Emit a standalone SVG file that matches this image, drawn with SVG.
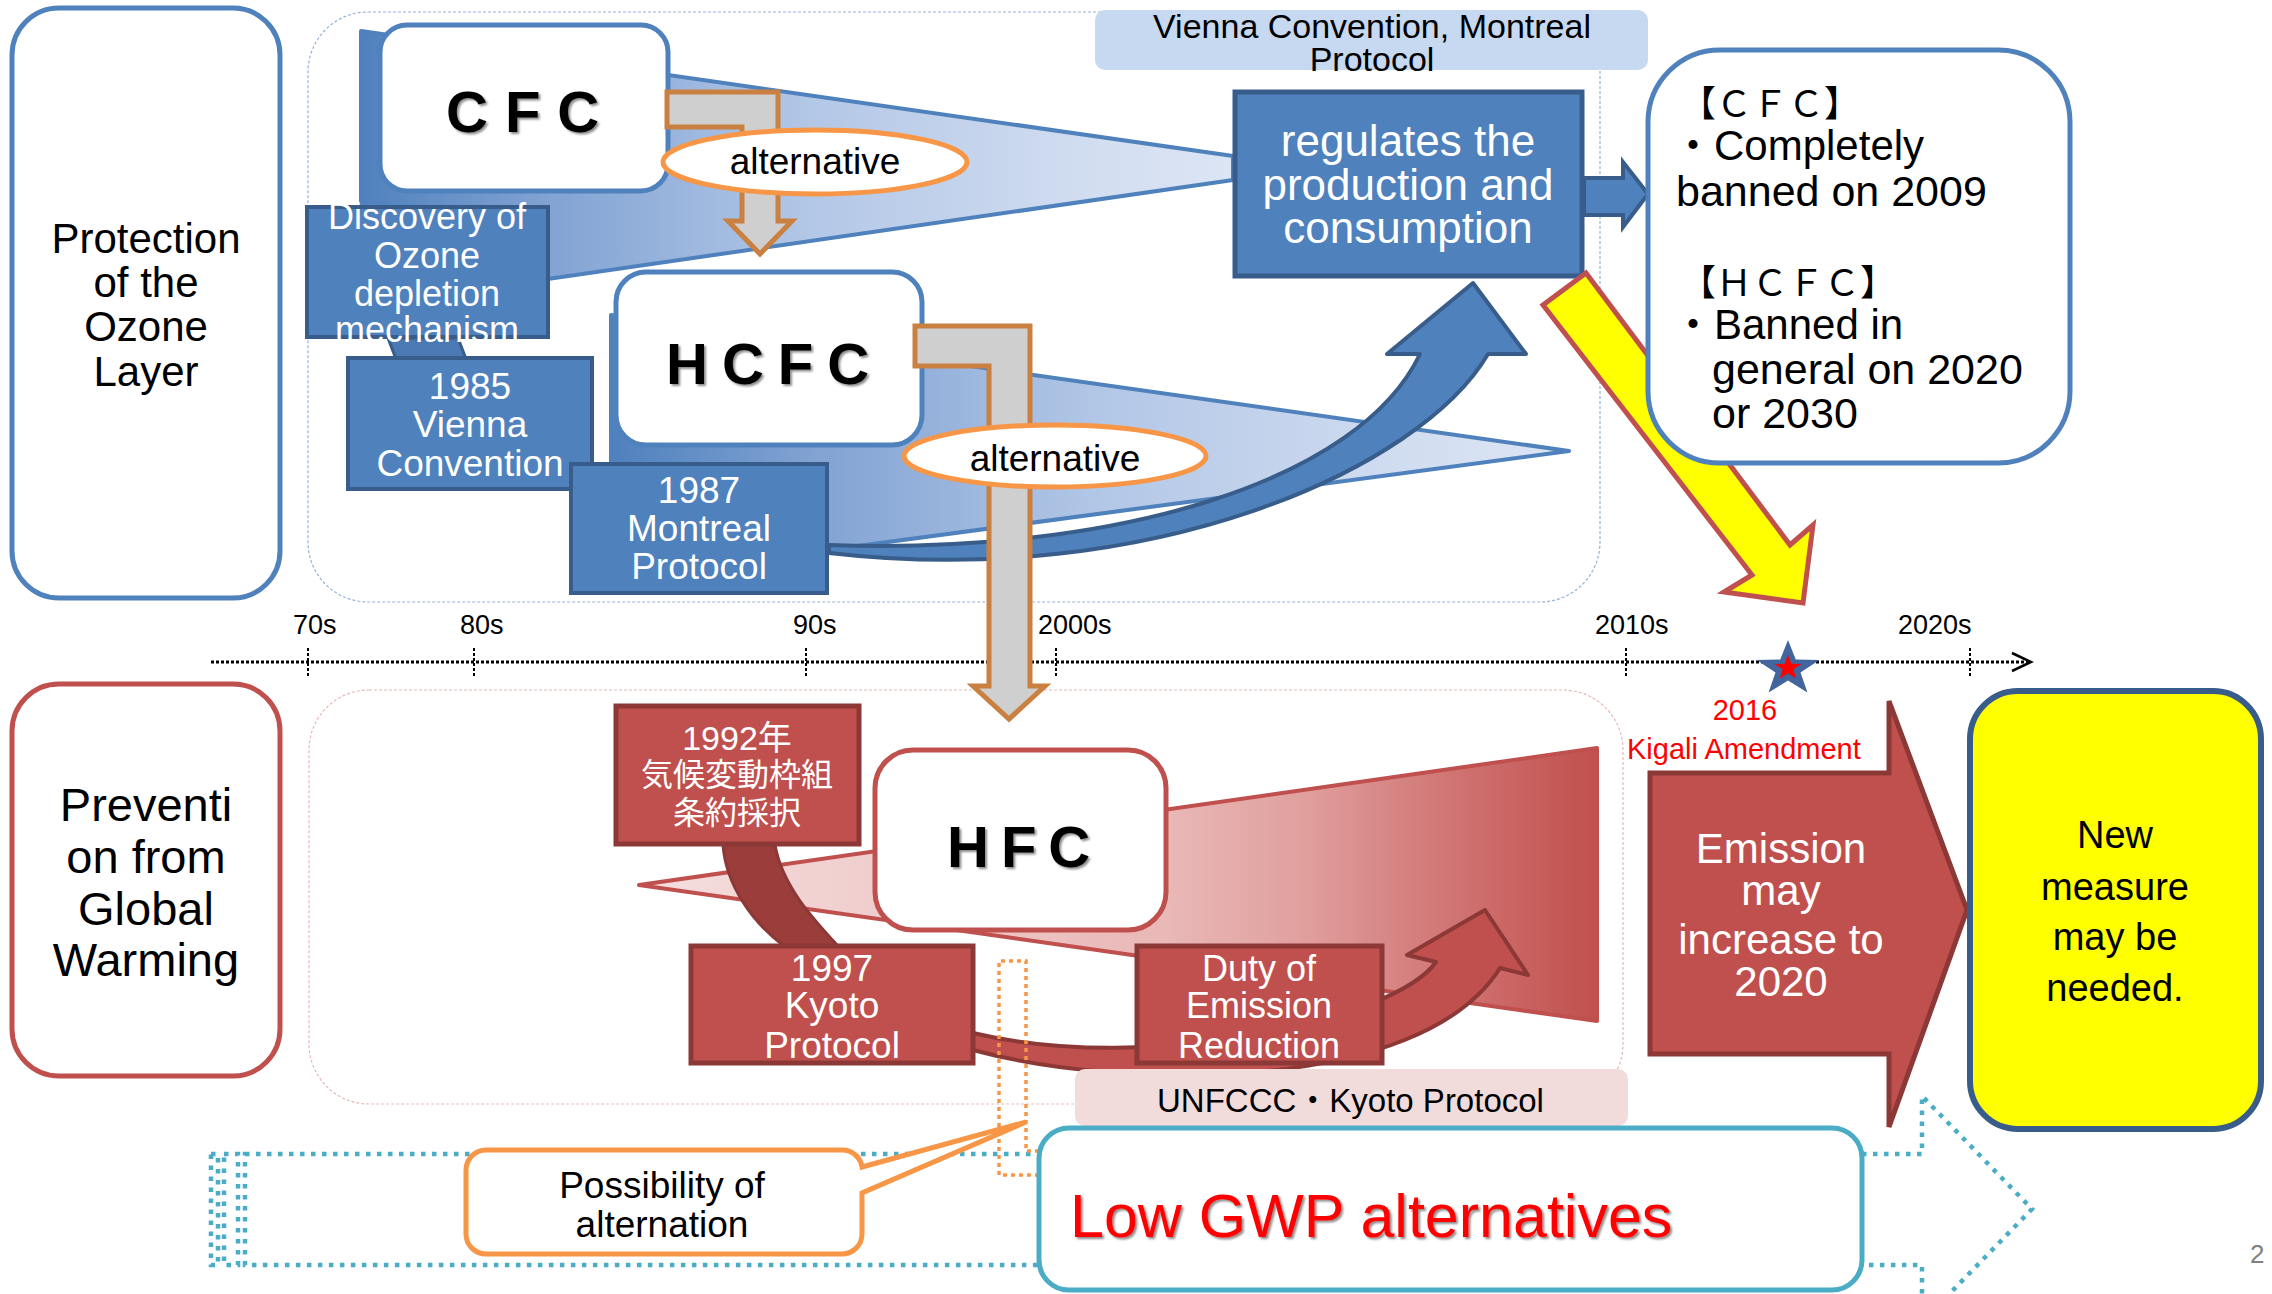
<svg xmlns="http://www.w3.org/2000/svg" width="2272" height="1294" viewBox="0 0 2272 1294">
<defs>
<style>
text { font-family: 'Liberation Sans','Noto Sans CJK JP',sans-serif; }
.mid { text-anchor: middle; }
.wt { fill: #ffffff; }
.bk { fill: #000000; }
.bluebox { fill: #4f81bd; stroke: #385d8a; stroke-width: 4; }
.redbox { fill: #c0504d; stroke: #8c3836; stroke-width: 5; }
.grey { fill: #cfcfcf; stroke: #c98040; stroke-width: 5; }
.ell { fill: #ffffff; stroke: #f79646; stroke-width: 5; }
.big { font-size: 58px; font-weight: bold; fill: #000; }
.tick { stroke: #000; stroke-width: 2; stroke-dasharray: 3 2; }
.ax { font-size: 27px; fill: #000; }
.wedge { stroke: #4f81bd; stroke-width: 4; stroke-linejoin: round; }
.cyan { fill: none; stroke: #4bacc6; stroke-width: 4.5; stroke-dasharray: 4.5 6.5; }
</style>
<linearGradient id="gB1" gradientUnits="userSpaceOnUse" x1="361" y1="0" x2="1233" y2="0">
<stop offset="0" stop-color="#4f81bd"/><stop offset="0.2" stop-color="#7fa1d2"/><stop offset="0.5" stop-color="#b1c6e6"/><stop offset="0.85" stop-color="#d3def1"/><stop offset="1" stop-color="#dce5f4"/>
</linearGradient>
<linearGradient id="gB2" gradientUnits="userSpaceOnUse" x1="611" y1="0" x2="1569" y2="0">
<stop offset="0" stop-color="#4f81bd"/><stop offset="0.2" stop-color="#7fa1d2"/><stop offset="0.5" stop-color="#b1c6e6"/><stop offset="0.85" stop-color="#d3def1"/><stop offset="1" stop-color="#dce5f4"/>
</linearGradient>
<linearGradient id="gR" gradientUnits="userSpaceOnUse" x1="639" y1="0" x2="1597" y2="0">
<stop offset="0" stop-color="#f5dfdf"/><stop offset="0.15" stop-color="#f2d4d4"/><stop offset="0.55" stop-color="#e9b8b7"/><stop offset="0.69" stop-color="#e0a09e"/><stop offset="0.85" stop-color="#d07473"/><stop offset="1" stop-color="#c0504d"/>
</linearGradient>
<filter id="sh" x="-10%" y="-20%" width="130%" height="150%">
<feDropShadow dx="2" dy="2" stdDeviation="1.2" flood-color="#000" flood-opacity="0.45"/>
</filter>
<path id="star" d="M0,-1 L0.235,-0.324 L0.951,-0.309 L0.380,0.124 L0.588,0.809 L0,0.4 L-0.588,0.809 L-0.380,0.124 L-0.951,-0.309 L-0.235,-0.324 Z"/>
</defs>
<rect width="2272" height="1294" fill="#ffffff"/>

<g id="containers">
<rect x="308" y="12" width="1292" height="590" rx="60" fill="none" stroke="#95b3d7" stroke-width="1.2" stroke-dasharray="3 2"/>
<rect x="309" y="690" width="1314" height="414" rx="60" fill="none" stroke="#e6b9b8" stroke-width="1.2" stroke-dasharray="3 2"/>
</g>

<g id="low-gwp-arrow">
<path class="cyan" d="M245,1154 H1922 V1096 L2032,1209 L1922,1322 V1265 H245 Z"/>
<rect class="cyan" x="211" y="1154" width="7" height="111"/>
<rect class="cyan" x="224" y="1154" width="14" height="111"/>
</g>

<g id="wedges">
<polygon class="wedge" fill="url(#gB1)" points="361,31 1233,156 1233,180 361,306"/>
<polygon class="wedge" fill="url(#gB2)" points="611,315 1569,451 611,579"/>
</g>

<g id="connectors">
<path id="blue-curve" d="M829,553 C1150,590 1420,470 1488,354 L1526,354 L1473,283 L1387,354 L1420,354 C1360,480 1120,555 829,545 Z" fill="#4f81bd" stroke="#385d8a" stroke-width="4" stroke-linejoin="round"/>
</g>

<g id="cfc">
<rect x="380" y="25" width="288" height="166" rx="27" fill="#fff" stroke="#4f81bd" stroke-width="5"/>
<text class="big" x="446" y="132" letter-spacing="17" filter="url(#sh)">CFC</text>
</g>
<g id="hcfc">
<rect x="616" y="272" width="306" height="173" rx="30" fill="#fff" stroke="#4f81bd" stroke-width="5"/>
<text class="big" x="666" y="384" letter-spacing="14" filter="url(#sh)">HCFC</text>
</g>

<g id="discovery">
<polygon points="388,338 458,338 466,359 396,359" fill="#4a79b3" stroke="#385d8a" stroke-width="3"/>
<rect class="bluebox" x="307" y="207" width="241" height="130"/>
<text class="wt mid" font-size="36" x="427"><tspan x="427" y="229">Discovery of</tspan><tspan x="427" y="268">Ozone</tspan><tspan x="427" y="306">depletion</tspan><tspan x="427" y="342">mechanism</tspan></text>
</g>
<g id="vienna1985">
<rect class="bluebox" x="348" y="358" width="244" height="131"/>
<text class="wt mid" font-size="37"><tspan x="470" y="399">1985</tspan><tspan x="470" y="437">Vienna</tspan><tspan x="470" y="476">Convention</tspan></text>
</g>
<g id="montreal1987">
<rect class="bluebox" x="571" y="464" width="256" height="129"/>
<text class="wt mid" font-size="37"><tspan x="699" y="503">1987</tspan><tspan x="699" y="541">Montreal</tspan><tspan x="699" y="579">Protocol</tspan></text>
</g>

<g id="alt1">
<polygon class="grey" points="667,92 778,92 778,221 792,221 760,254 728,221 742,221 742,127 667,127"/>
<ellipse class="ell" cx="815" cy="162" rx="152" ry="32"/>
<text class="bk mid" font-size="37" x="815" y="174">alternative</text>
</g>

<g id="regulates">
<rect x="1235" y="92" width="347" height="184" fill="#4f81bd" stroke="#385d8a" stroke-width="5"/>
<text class="wt mid" font-size="44"><tspan x="1408" y="156">regulates the</tspan><tspan x="1408" y="200">production and</tspan><tspan x="1408" y="243">consumption</tspan></text>
</g>
<g id="arrow-to-ban">
<polygon points="1584,178 1623,178 1623,162 1648,194 1623,227 1623,215 1584,215" fill="#4f81bd" stroke="#385d8a" stroke-width="4"/>
</g>
<g id="yellow-arrow">
<polygon points="1586,273 1790,545 1813,525 1803,603 1724,592 1752,575 1543,305" fill="#ffff00" stroke="#c0504d" stroke-width="5" stroke-linejoin="miter"/>
</g>
<g id="ban-box">
<rect x="1648" y="50" width="422" height="413" rx="72" fill="#fff" stroke="#4f81bd" stroke-width="5"/>
<text class="bk" font-size="36" x="1680" y="117">【ＣＦＣ】</text>
<text class="bk" font-size="42" x="1672" y="160">・Completely</text>
<text class="bk" font-size="43" x="1676" y="206">banned on 2009</text>
<text class="bk" font-size="36" x="1680" y="296">【ＨＣＦＣ】</text>
<text class="bk" font-size="42" x="1672" y="339">・Banned in</text>
<text class="bk" font-size="43" x="1712" y="384">general on 2020</text>
<text class="bk" font-size="43" x="1712" y="428">or 2030</text>
</g>
<g id="vienna-label">
<rect x="1095" y="10" width="553" height="60" rx="10" fill="#c6d9f1"/>
<text class="bk mid" font-size="34"><tspan x="1372" y="38">Vienna Convention, Montreal</tspan><tspan x="1372" y="71">Protocol</tspan></text>
</g>

<g id="timeline">
<line x1="211" y1="662" x2="2029" y2="662" stroke="#000" stroke-width="3" stroke-dasharray="3 2"/>
<polyline points="2012,653 2031,662 2012,671" fill="none" stroke="#000" stroke-width="2.5"/>
<line class="tick" x1="308" y1="648" x2="308" y2="676"/>
<line class="tick" x1="474" y1="648" x2="474" y2="676"/>
<line class="tick" x1="806" y1="648" x2="806" y2="676"/>
<line class="tick" x1="1056" y1="648" x2="1056" y2="676"/>
<line class="tick" x1="1626" y1="648" x2="1626" y2="676"/>
<line class="tick" x1="1970" y1="648" x2="1970" y2="676"/>
<text class="ax" x="293" y="634">70s</text>
<text class="ax" x="460" y="634">80s</text>
<text class="ax" x="793" y="634">90s</text>
<text class="ax" x="1038" y="634">2000s</text>
<text class="ax" x="1595" y="634">2010s</text>
<text class="ax" x="1898" y="634">2020s</text>
</g>

<g id="alt2">
<polygon class="grey" points="915,326 1030,326 1030,686 1045,686 1009,719 973,686 989,686 989,366 915,366"/>
<ellipse class="ell" cx="1055" cy="456" rx="151" ry="31"/>
<text class="bk mid" font-size="37" x="1055" y="471">alternative</text>
</g>

<g id="hfc-wedge">
<polygon points="639,885 1597,748 1597,1021" fill="url(#gR)" stroke="#c0504d" stroke-width="4" stroke-linejoin="round"/>
</g>
<g id="red-connectors">
<path d="M723,845 C726,885 752,922 784,946 L838,946 C812,918 782,885 775,845 Z" fill="#9b3d3b" stroke="#8c3836" stroke-width="3"/>
<path d="M973,1050 C1120,1090 1420,1095 1500,968 L1528,975 L1485,910 L1407,955 L1436,962 C1395,1020 1150,1075 973,1033 Z" fill="#c0504d" stroke="#8c3836" stroke-width="4" stroke-linejoin="round"/>
</g>
<g id="unfccc1992">
<rect class="redbox" x="616" y="706" width="243" height="138"/>
<text class="wt mid"><tspan x="737" y="750" font-size="34">1992年</tspan><tspan x="737" y="786" font-size="32">気候変動枠組</tspan><tspan x="737" y="824" font-size="32">条約採択</tspan></text>
</g>
<g id="hfc">
<rect x="875" y="750" width="291" height="180" rx="38" fill="#fff" stroke="#c0504d" stroke-width="5"/>
<text class="big" font-size="60" x="947" y="867" letter-spacing="12" filter="url(#sh)">HFC</text>
</g>
<g id="kyoto1997">
<rect class="redbox" x="691" y="946" width="282" height="117"/>
<text class="wt mid" font-size="37"><tspan x="832" y="981">1997</tspan><tspan x="832" y="1018">Kyoto</tspan><tspan x="832" y="1058">Protocol</tspan></text>
</g>
<g id="duty">
<rect class="redbox" x="1137" y="946" width="245" height="117"/>
<text class="wt mid" font-size="36"><tspan x="1259" y="981">Duty of</tspan><tspan x="1259" y="1018">Emission</tspan><tspan x="1259" y="1058">Reduction</tspan></text>
</g>

<g id="alt-window">
<path d="M1039,1151 H1026 V961 H999 V1175 H1039" fill="none" stroke="#f79646" stroke-width="3.5" stroke-dasharray="4 4"/>
</g>
<g id="unfccc-label">
<rect x="1075" y="1069" width="553" height="57" rx="10" fill="#f2dcdb"/>
<text class="bk" font-size="33" x="1157" y="1112">UNFCCC・Kyoto Protocol</text>
</g>
<g id="possibility">
<path d="M486,1150 H842 A20,20 0 0 1 862,1167 L1026,1122 L862,1193 V1234 A20,20 0 0 1 842,1254 H486 A20,20 0 0 1 466,1234 V1170 A20,20 0 0 1 486,1150 Z" fill="#fff" stroke="#f79646" stroke-width="5" stroke-linejoin="miter"/>
<text class="bk mid" font-size="37"><tspan x="662" y="1198">Possibility of</tspan><tspan x="662" y="1237">alternation</tspan></text>
</g>
<g id="low-gwp">
<rect x="1039" y="1128" width="823" height="162" rx="30" fill="#fff" stroke="#4bacc6" stroke-width="5"/>
<text font-size="61" x="1070" y="1237" fill="#ff0000" filter="url(#sh)">Low GWP alternatives</text>
</g>

<g id="emission-arrow">
<polygon points="1650,773 1889,773 1889,701 1967,910 1889,1127 1889,1054 1650,1054" fill="#c0504d" stroke="#8c3836" stroke-width="5"/>
<text class="wt mid" font-size="42"><tspan x="1781" y="863">Emission</tspan><tspan x="1781" y="905">may</tspan><tspan x="1781" y="954">increase to</tspan><tspan x="1781" y="996">2020</tspan></text>
</g>
<g id="new-measure">
<rect x="1970" y="691" width="291" height="438" rx="48" fill="#ffff00" stroke="#385d8a" stroke-width="6"/>
<text class="bk mid" font-size="38"><tspan x="2115" y="848">New</tspan><tspan x="2115" y="900">measure</tspan><tspan x="2115" y="950">may be</tspan><tspan x="2115" y="1001">needed.</tspan></text>
</g>

<g id="kigali">
<use href="#star" transform="translate(1788,669) scale(33,29)" fill="#41659c"/>
<use href="#star" transform="translate(1788,668) scale(14,13)" fill="#ff0000"/>
<text class="mid" font-size="29" fill="#ff0000" x="1745" y="720">2016</text>
<text font-size="29" fill="#ff0000" x="1627" y="759">Kigali Amendment</text>
</g>

<g id="ozone-layer">
<rect x="12" y="8" width="268" height="590" rx="47" fill="#fff" stroke="#4f81bd" stroke-width="5"/>
<text class="bk mid" font-size="42"><tspan x="146" y="253">Protection</tspan><tspan x="146" y="297">of the</tspan><tspan x="146" y="341">Ozone</tspan><tspan x="146" y="386">Layer</tspan></text>
</g>
<g id="global-warming">
<rect x="12" y="684" width="268" height="392" rx="47" fill="#fff" stroke="#c0504d" stroke-width="5"/>
<text class="bk mid" font-size="47"><tspan x="146" y="821">Preventi</tspan><tspan x="146" y="873">on from</tspan><tspan x="146" y="925">Global</tspan><tspan x="146" y="976">Warming</tspan></text>
</g>

<text x="2250" y="1263" font-size="26" fill="#808080">2</text>
</svg>
